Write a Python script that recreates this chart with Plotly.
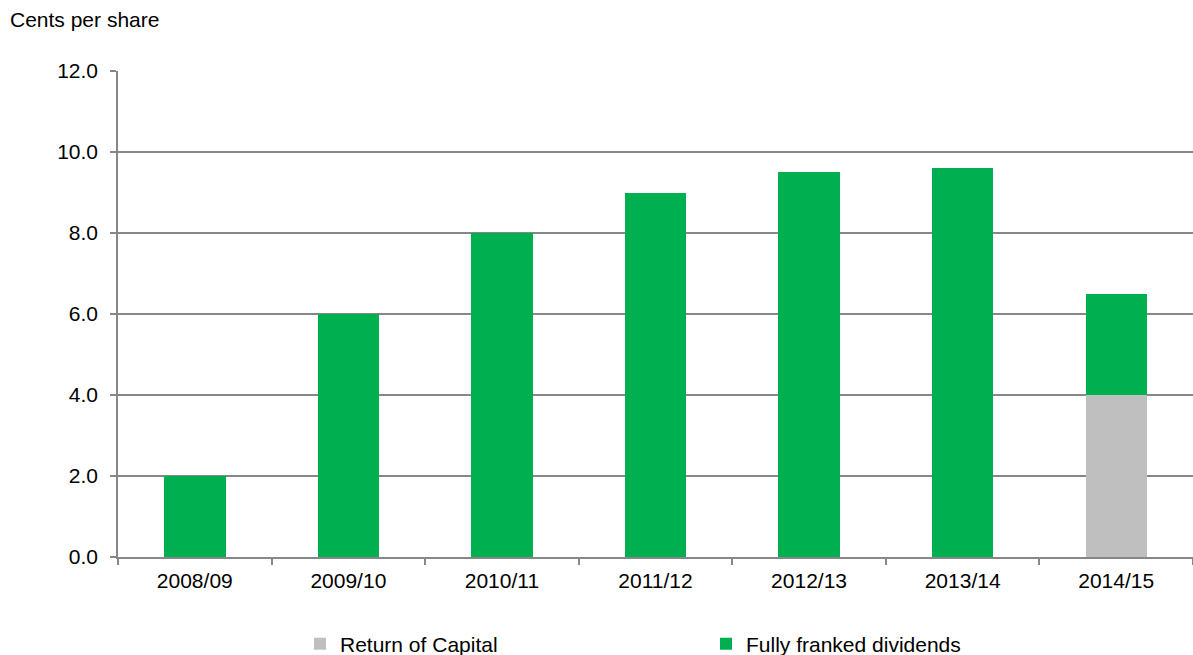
import plotly.graph_objects as go

years = ["2008/09", "2009/10", "2010/11", "2011/12", "2012/13", "2013/14", "2014/15"]
return_of_capital = [0, 0, 0, 0, 0, 0, 4.0]
fully_franked = [2.0, 6.0, 8.0, 9.0, 9.5, 9.6, 2.5]

GRAY = "#BFBFBF"
GREEN = "#00B050"
LINE = "#878787"
FONT = "Liberation Sans, Arial, sans-serif"

W, H = 1193, 655
L, R, T, B = 118, 0, 71, 98
PW, PH = W - L - R, H - T - B

fig = go.Figure()
fig.add_trace(go.Bar(x=years, y=return_of_capital, name="Return of Capital",
                     marker=dict(color=GRAY, line=dict(width=0))))
fig.add_trace(go.Bar(x=years, y=fully_franked, name="Fully franked dividends",
                     marker=dict(color=GREEN, line=dict(width=0))))

fig.update_layout(
    barmode="stack",
    bargap=0.6,
    width=W, height=H,
    margin=dict(l=L, r=R, t=T, b=B, autoexpand=False),
    plot_bgcolor="white", paper_bgcolor="white",
    font=dict(family=FONT, size=21, color="#000000"),
    showlegend=True,
    legend=dict(orientation="h", x=(300 - L) / PW, xanchor="left",
                y=-(644 - (T + PH)) / PH, yanchor="middle",
                entrywidth=361, entrywidthmode="pixels", traceorder="normal",
                font=dict(size=21), itemwidth=30),
    xaxis=dict(showline=True, linecolor=LINE, linewidth=1.5, ticks="outside",
               tickson="boundaries", ticklen=6, tickcolor=LINE, tickwidth=1.5,
               showgrid=False, range=[-0.5, 6.5], ticklabelstandoff=4),
    yaxis=dict(range=[0, 12], dtick=2, tickformat=".1f", showline=True,
               linecolor=LINE, linewidth=1.5, ticks="outside", ticklen=6,
               tickcolor=LINE, tickwidth=1.5, showgrid=True, gridcolor=LINE,
               gridwidth=1.5, zeroline=False, ticklabelstandoff=8),
    annotations=[dict(text="Cents per share", xref="paper", yref="paper",
                      x=(8 - L) / PW, y=1 + (T - 20) / PH, xanchor="left",
                      yanchor="middle", showarrow=False)],
)

fig.write_html("out.html",
               config={"displayModeBar": False},
               post_script="document.body.style.margin='0';"
                           "document.body.style.overflow='hidden';")
